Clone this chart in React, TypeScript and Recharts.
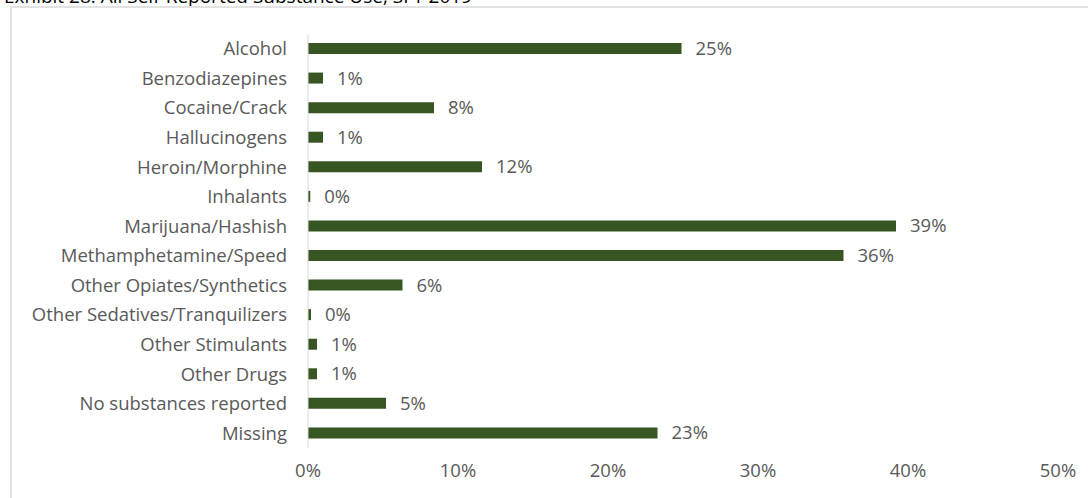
import React from "react";
import { BarChart, Bar, XAxis, YAxis, LabelList } from "recharts";

const categories = [
  "Alcohol",
  "Benzodiazepines",
  "Cocaine/Crack",
  "Hallucinogens",
  "Heroin/Morphine",
  "Inhalants",
  "Marijuana/Hashish",
  "Methamphetamine/Speed",
  "Other Opiates/Synthetics",
  "Other Sedatives/Tranquilizers",
  "Other Stimulants",
  "Other Drugs",
  "No substances reported",
  "Missing",
];

const percents = [24.9, 1.0, 8.4, 1.0, 11.6, 0.15, 39.2, 35.7, 6.3, 0.2, 0.6, 0.6, 5.2, 23.3];

const xTicks = [0, 10, 20, 30, 40, 50];

const data = categories.map((name, i) => ({ name, value: percents[i] }));

const font = "'Open Sans', sans-serif";
const textSize = 18.5;

export default function App() {
  return (
    <div style={{ position: "absolute", left: 0, top: 0, width: 1088, height: 498, overflow: "hidden", background: "#fff", fontFamily: font }}>
      <div style={{ position: "absolute", left: 4, top: -17, fontSize: 19, color: "#000", whiteSpace: "nowrap" }}>
        Exhibit 28: All Self-Reported Substance Use, SFY 2019
      </div>
      <div style={{ position: "absolute", left: 10, top: 6, width: 1100, height: 520, border: "2px solid #e2e2e2", boxSizing: "border-box" }} />
      <div style={{ position: "absolute", left: 0, top: 0 }}>
        <BarChart
          width={1088}
          height={498}
          data={data}
          layout="vertical"
          margin={{ top: 34, right: 30, left: 0, bottom: 20 }}
          barCategoryGap={0}
        >
          <XAxis
            type="number"
            domain={[0, 50]}
            ticks={xTicks}
            tickFormatter={(v) => `${v}%`}
            axisLine={false}
            tickLine={false}
            tickSize={0}
            tickMargin={16}
            tick={{ fontSize: textSize, fill: "#595959", fontFamily: font }}
          />
          <YAxis
            type="category"
            dataKey="name"
            width={308}
            axisLine={{ stroke: "#d9d9d9" }}
            tickLine={false}
            tickSize={0}
            tickMargin={21}
            interval={0}
            tick={{ fontSize: textSize, fill: "#595959", fontFamily: font }}
          />
          <Bar dataKey="value" fill="#375623" barSize={11} isAnimationActive={false}>
            <LabelList
              dataKey="value"
              position="right"
              offset={14}
              formatter={(v: any) => `${Math.round(Number(v))}%`}
              style={{ fontSize: textSize, fill: "#595959", fontFamily: font }}
            />
          </Bar>
        </BarChart>
      </div>
    </div>
  );
}
